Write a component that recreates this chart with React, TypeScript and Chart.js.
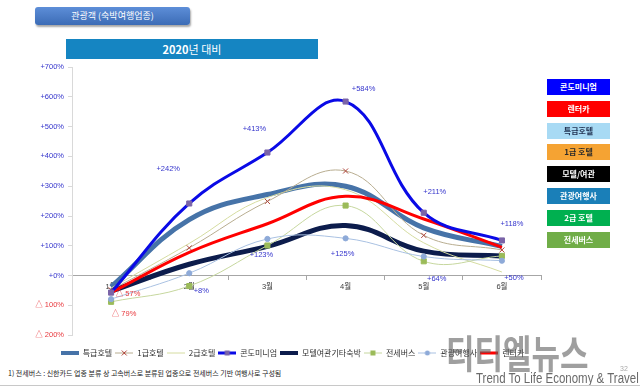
import React, { useEffect, useRef } from 'react';
import { Chart, registerables } from 'chart.js';

Chart.register(...registerables);

// ---- data ----
const months = ['1월', '2월', '3월', '4월', '5월', '6월'];
const seriesNames = ['특급호텔', '1급호텔', '2급호텔', '콘도미니엄', '모텔여관기타숙박', '전세버스', '관광여행사', '렌터카'];
const luxuryHotel = [-38, 188, 272, 300, 160, 98];
const firstClassHotel = [-48, 93, 249, 351, 135, 86];
const secondClassHotel = [-42, 108, 262, 288, 110, 12];
const condominium = [-57, 242, 413, 584, 211, 118];
const motelInn = [-52, 38, 98, 168, 82, 66];
const charterBus = [-88, -35, 101, 235, 48, 66];
const travelAgency = [-79, 8, 123, 125, 64, 50];
const rentACar = [-57, 78, 174, 266, 190, 95];
const yTickLabels = ['△ 200%', '△ 100%', '+0%', '+100%', '+200%', '+300%', '+400%', '+500%', '+600%', '+700%'];
const sideLegendNames = ['콘도미니엄', '렌터카', '특급호텔', '1급 호텔', '모텔/여관', '관광여행사', '2급 호텔', '전세버스'];

// ---- styles ----
const KR = "'Noto Sans CJK KR', sans-serif";
const MIX = "'Liberation Sans', 'Noto Sans CJK KR', sans-serif";
const POS = '#3434cc';
const NEG = '#e8383d';

const styles = [
  { color: '#4673a8', width: 5, marker: false, mColor: '', order: 7 },
  { color: '#b8ad90', width: 1, marker: 'crossRot', mColor: '#b0473d', order: 4 },
  { color: '#d5dca0', width: 1, marker: false, mColor: '', order: 5 },
  { color: '#0a0ae6', width: 3, marker: 'rect', mColor: '#7a64a8', order: 0 },
  { color: '#0c1c4c', width: 5, marker: false, mColor: '', order: 6 },
  { color: '#c6d79e', width: 1, marker: 'rect', mColor: '#9bbb59', order: 3 },
  { color: '#a9c1e2', width: 1, marker: 'circle', mColor: '#8eaad8', order: 2 },
  { color: '#ff0000', width: 3, marker: false, mColor: '', order: 1 },
];
const seriesData = [luxuryHotel, firstClassHotel, secondClassHotel, condominium, motelInn, charterBus, travelAgency, rentACar];

const sideColors = [
  ['#0000ff', '#ffffff'], ['#ff0000', '#ffffff'], ['#a8daf4', '#1f3050'], ['#f5a333', '#2a2a2a'],
  ['#000000', '#ffffff'], ['#1a7fb8', '#ffffff'], ['#00b050', '#ffffff'], ['#70ad47', '#ffffff'],
];

// label offsets (dx, dy) relative to points, for 콘도미니엄 (3) and 관광여행사 (6)
const labelSpecs = [
  { index: 3, offsets: [[17, 1], [-21, -35], [-13, -24], [18, -13], [11, -21], [10, -16]] },
  { index: 6, offsets: [[13, 15], [12, 18], [-6, 16], [-3, 16], [13, 22], [12, 17]] },
];

const LEGEND_SHIFT = 22;

const fmt = (v: number) => (v >= 0 ? `+${v}%` : `△ ${-v}%`);

function makeIcon(s: any) {
  const c = document.createElement('canvas');
  c.width = 18;
  c.height = 8;
  const g = c.getContext('2d')!;
  g.strokeStyle = s.color;
  g.lineWidth = Math.min(s.width, 4);
  g.beginPath();
  g.moveTo(0, 4);
  g.lineTo(18, 4);
  g.stroke();
  if (s.marker === 'rect') {
    g.fillStyle = s.mColor;
    g.fillRect(6.5, 1.5, 5, 5);
  } else if (s.marker === 'circle') {
    g.fillStyle = s.mColor;
    g.beginPath();
    g.arc(9, 4, 2.5, 0, Math.PI * 2);
    g.fill();
  } else if (s.marker === 'crossRot') {
    g.strokeStyle = s.mColor;
    g.lineWidth = 1;
    g.beginPath();
    g.moveTo(6.5, 1.5); g.lineTo(11.5, 6.5);
    g.moveTo(11.5, 1.5); g.lineTo(6.5, 6.5);
    g.stroke();
  }
  return c;
}

const labelPlugin = {
  id: 'pointValueLabels',
  afterLayout(chart: any) {
    if (chart.legend) {
      chart.legend.left += LEGEND_SHIFT;
      chart.legend.right += LEGEND_SHIFT;
    }
  },
  afterDatasetsDraw(chart: any) {
    const ctx = chart.ctx;
    ctx.save();
    ctx.font = `7.5px ${MIX}`;
    ctx.textAlign = 'center';
    ctx.textBaseline = 'middle';
    labelSpecs.forEach((spec) => {
      const meta = chart.getDatasetMeta(spec.index);
      const vals = chart.data.datasets[spec.index].data;
      meta.data.forEach((pt: any, i: number) => {
        const v = vals[i];
        const [dx, dy] = spec.offsets[i];
        ctx.fillStyle = v < 0 ? NEG : POS;
        ctx.fillText(fmt(v), pt.x + dx, pt.y + dy);
      });
    });
    ctx.restore();
  },
};

export default function App() {
  const ref = useRef<HTMLCanvasElement>(null);

  useEffect(() => {
    document.body.style.margin = '0';
    const icons = styles.map(makeIcon);
    const chart = new Chart(ref.current!, {
      type: 'line',
      data: {
        labels: months,
        datasets: seriesNames.map((name, i) => {
          const s = styles[i];
          return {
            label: name,
            data: seriesData[i],
            borderColor: s.color,
            borderWidth: s.width,
            tension: 0.4,
            fill: false,
            order: s.order,
            pointStyle: s.marker || 'circle',
            pointRadius: s.marker ? (s.marker === 'circle' ? 2.6 : 3.6) : 0,
            pointBackgroundColor: s.mColor || s.color,
            pointBorderColor: s.mColor || s.color,
            pointBorderWidth: 1,
          } as any;
        }),
      },
      options: {
        animation: false,
        responsive: false,
        maintainAspectRatio: false,
        layout: { padding: { top: 67, right: 49, bottom: 0, left: 0 } },
        plugins: {
          tooltip: { enabled: false },
          legend: {
            position: 'bottom',
            title: { display: true, text: '', padding: 0, font: { size: 9 } },
            labels: {
              usePointStyle: true,
              pointStyleWidth: 18,
              padding: 3,
              color: '#333',
              font: { size: 8, family: KR },
              generateLabels: () =>
                seriesNames.map((name, i) => ({
                  text: name,
                  pointStyle: icons[i],
                  datasetIndex: i,
                  fillStyle: styles[i].color,
                  strokeStyle: styles[i].color,
                  lineWidth: 0,
                  hidden: false,
                  fontColor: '#333',
                })) as any,
            },
          },
        },
        scales: {
          x: {
            type: 'category',
            offset: true,
            position: { y: 0 } as any,
            grid: { display: true, drawOnChartArea: false, offset: true, tickLength: 4, color: '#a6a6a6' },
            border: { color: '#a6a6a6' },
            ticks: { color: '#404040', font: { size: 7.5, family: MIX }, padding: 3, maxRotation: 0, autoSkip: false },
          },
          y: {
            min: -200,
            max: 700,
            afterFit: (s: any) => {
              s.width = 72;
            },
            ticks: {
              stepSize: 100,
              padding: 4,
              font: { size: 7.5, family: MIX },
              color: (c: any) => (c.tick && c.tick.value < 0 ? NEG : POS),
              callback: (_v: any, i: number) => yTickLabels[i],
            },
            grid: { drawOnChartArea: false, tickLength: 4, color: '#d9d9d9' },
            border: { color: '#d9d9d9' },
          },
        },
      },
      plugins: [labelPlugin],
    });
    return () => chart.destroy();
  }, []);

  return (
    <div style={{ position: 'absolute', left: 0, top: 0, width: 640, height: 387, overflow: 'hidden', background: '#fff' }}>
      <div
        style={{
          position: 'absolute', left: 35, top: 7, width: 155, height: 18, borderRadius: 3,
          background: 'linear-gradient(#5d8ed8, #3c6cb6)', boxShadow: '1px 2px 2px rgba(0,0,0,0.35)',
          color: '#fff', font: `9px ${KR}`, lineHeight: '18px', textAlign: 'center',
        }}
      >
        관광객 (숙박여행업종)
      </div>
      <div
        style={{
          position: 'absolute', left: 66, top: 39, width: 252, height: 20, background: '#1585c2',
          color: '#fff', font: `11px ${KR}`, lineHeight: '20px', textAlign: 'center',
        }}
      >
        <b>2020</b>년 대비
      </div>
      <canvas ref={ref} width={590} height={367} style={{ position: 'absolute', left: 0, top: 0 }} />
      {sideLegendNames.map((n, i) => (
        <div
          key={n}
          style={{
            position: 'absolute', left: 547, top: 79 + i * 21.8, width: 63, height: 16,
            background: sideColors[i][0], color: sideColors[i][1], font: `bold 8px ${KR}`,
            lineHeight: '16px', textAlign: 'center',
          }}
        >
          {n}
        </div>
      ))}
      <div style={{ position: 'absolute', left: 8, top: 368, font: `7px ${KR}`, color: '#222', whiteSpace: 'nowrap' }}>
        1) 전세버스 : 신한카드 업종 분류 상 고속버스로 분류된 업종으로 전세버스 기반 여행사로 구성됨
      </div>
      <div
        style={{
          position: 'absolute', left: 446, top: 330, font: `bold 31px ${KR}`, color: 'rgba(95,95,95,0.6)',
          transform: 'scaleY(1.25)', transformOrigin: 'top left', lineHeight: '34px', whiteSpace: 'nowrap', letterSpacing: 0,
        }}
      >
        티티엘뉴스
      </div>
      <div
        style={{
          position: 'absolute', left: 476, top: 370, font: `14px 'Liberation Sans', sans-serif`, color: '#6a6a6a',
          transform: 'scaleX(0.82)', transformOrigin: 'top left', whiteSpace: 'nowrap', lineHeight: '16px',
        }}
      >
        Trend To Life Economy &amp; Travel
      </div>
      <div style={{ position: 'absolute', left: 620, top: 365, font: `7px ${MIX}`, color: '#aaa' }}>32</div>
      <div style={{ position: 'absolute', left: 0, top: 385, width: 640, height: 1, background: '#c8c8c8' }} />
    </div>
  );
}
